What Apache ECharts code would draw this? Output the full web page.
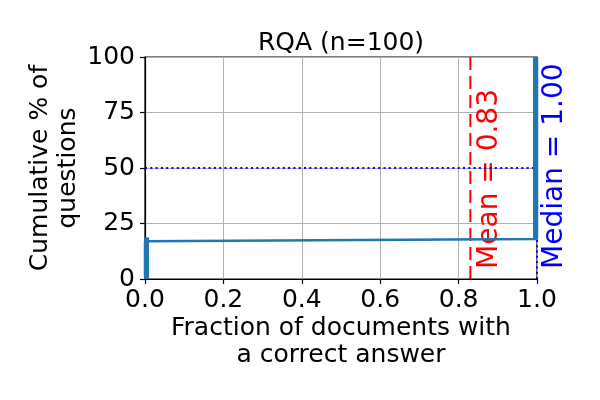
<!DOCTYPE html>
<html>
<head>
<meta charset="utf-8">
<script src="https://cdn.jsdelivr.net/npm/echarts@6/dist/echarts.min.js"></script>
<style>html,body{margin:0;padding:0;background:#fff}#c{width:600px;height:400px}</style>
</head>
<body>
<div id="c"></div>
<script>
// Per-question fraction of documents with a correct answer (sorted), n = 100
const fractionValues = [
  0,0,0,0,0,0,0,0,0,0,0,0,0,0,0,0,0,
  1,1,1,1,1,1,1,1,1,1,1,1,1,1,1,1,1,1,1,1,
  1,1,1,1,1,1,1,1,1,1,1,1,1,1,1,1,1,1,1,1,
  1,1,1,1,1,1,1,1,1,1,1,1,1,1,1,1,1,1,1,1,
  1,1,1,1,1,1,1,1,1,1,1,1,1,1,1,1,1,1,1,1,
  1,1,1
];
const meanValue = 0.83;
const medianValue = 1.00;
const xTicks = [0, 0.2, 0.4, 0.6, 0.8, 1.0];
const yTicks = [0, 25, 50, 75, 100];
const titleText = 'RQA (n=100)';

const FONT = 'DejaVu Sans';
const n = fractionValues.length;
const ecdf = fractionValues.map((v, i) => [v, (i + 1) / n * 100]);
// vertical clusters of identical x values: [x, yStart, yEnd]
const zeroPts = ecdf.filter(p => p[0] === 0);
const onePts = ecdf.filter(p => p[0] === 1);
const clusters = [
  [0, 0, zeroPts[zeroPts.length - 1][1]],
  [1, onePts[0][1], onePts[onePts.length - 1][1]]
];

const chart = echarts.init(document.getElementById('c'), null, {renderer: 'canvas'});
const blue = '#1f77b4';
const option = {
  animation: false,
  title: {
    text: titleText, left: 253, top: 26,
    textStyle: {fontFamily: FONT, fontSize: 25, fontWeight: 'normal', color: '#000'}
  },
  grid: {left: 145, right: 63, top: 57, bottom: 121, show: true, borderColor: '#000', borderWidth: 1.2, containLabel: false},
  xAxis: {
    type: 'value', min: xTicks[0], max: xTicks[xTicks.length - 1], interval: 0.2,
    name: 'Fraction of documents with\na correct answer', nameLocation: 'middle', nameGap: 36,
    nameMoveOverlap: false,
    nameTextStyle: {fontFamily: FONT, fontSize: 25, color: '#000', lineHeight: 27},
    axisLine: {show: true, onZero: false, lineStyle: {color: '#000', width: 1.2}},
    axisTick: {show: true, length: 5, lineStyle: {color: '#000', width: 1.2}},
    axisLabel: {fontFamily: FONT, fontSize: 25, color: '#000', margin: 9, formatter: v => v.toFixed(1)},
    splitLine: {show: true, lineStyle: {color: '#b0b0b0', width: 1}}
  },
  yAxis: {
    type: 'value', min: yTicks[0], max: yTicks[yTicks.length - 1], interval: 25,
    name: 'Cumulative % of\nquestions', nameLocation: 'middle', nameGap: 63,
    nameMoveOverlap: false,
    nameTextStyle: {fontFamily: FONT, fontSize: 25, color: '#000', lineHeight: 28},
    axisLine: {show: true, onZero: false, lineStyle: {color: '#000', width: 1.2}},
    axisTick: {show: true, length: 5, lineStyle: {color: '#000', width: 1.2}},
    axisLabel: {fontFamily: FONT, fontSize: 25, color: '#000', margin: 10},
    splitLine: {show: true, lineStyle: {color: '#b0b0b0', width: 1}}
  },
  series: [
    {
      type: 'line', data: [[0, 50], [1, 50]], symbol: 'none', silent: true, z: 1,
      lineStyle: {color: '#0000ff', width: 2, type: [2, 3.3]}
    },
    {
      type: 'line', data: [[meanValue, 0], [meanValue, 100]], symbol: 'none', silent: true, z: 1,
      lineStyle: {color: '#ff0000', width: 2, type: [13, 6]}
    },
    {
      type: 'line', data: [[medianValue, 0], [medianValue, 100]], symbol: 'none', silent: true, z: 1,
      lineStyle: {color: '#0000ff', width: 2, type: [2, 3.3]}
    },
    {
      type: 'line', data: ecdf, symbol: 'none', z: 3,
      lineStyle: {color: blue, width: 2.5}
    },
    {
      type: 'custom', z: 3, silent: true, data: clusters,
      renderItem: function (params, api) {
        const x = api.coord([api.value(0), api.value(1)]);
        const top = api.coord([api.value(0), api.value(2)]);
        const half = 4;
        const cs = params.coordSys;
        const rect = echarts.graphic.clipRectByRect(
          {x: x[0] - half, y: top[1] - half, width: half * 2, height: x[1] - top[1] + half},
          {x: cs.x, y: cs.y, width: cs.width, height: cs.height}
        );
        return rect && {type: 'rect', shape: rect, style: {fill: blue}};
      }
    }
  ]
};
chart.setOption(option);

const meanPx = chart.convertToPixel({gridIndex: 0}, [meanValue, 5]);
const medPx = chart.convertToPixel({gridIndex: 0}, [medianValue, 5]);
chart.setOption({
  graphic: [
    {type: 'text', x: meanPx[0] + 19, y: meanPx[1] + 1, rotation: Math.PI / 2,
     style: {text: 'Mean = ' + meanValue.toFixed(2), fontFamily: FONT, fontSize: 28, fill: '#ff0000', textAlign: 'left', textVerticalAlign: 'middle'}},
    {type: 'text', x: medPx[0] + 18, y: medPx[1] + 1, rotation: Math.PI / 2,
     style: {text: 'Median = ' + medianValue.toFixed(2), fontFamily: FONT, fontSize: 28, fill: '#0000ff', textAlign: 'left', textVerticalAlign: 'middle'}}
  ]
});
</script>
</body>
</html>
